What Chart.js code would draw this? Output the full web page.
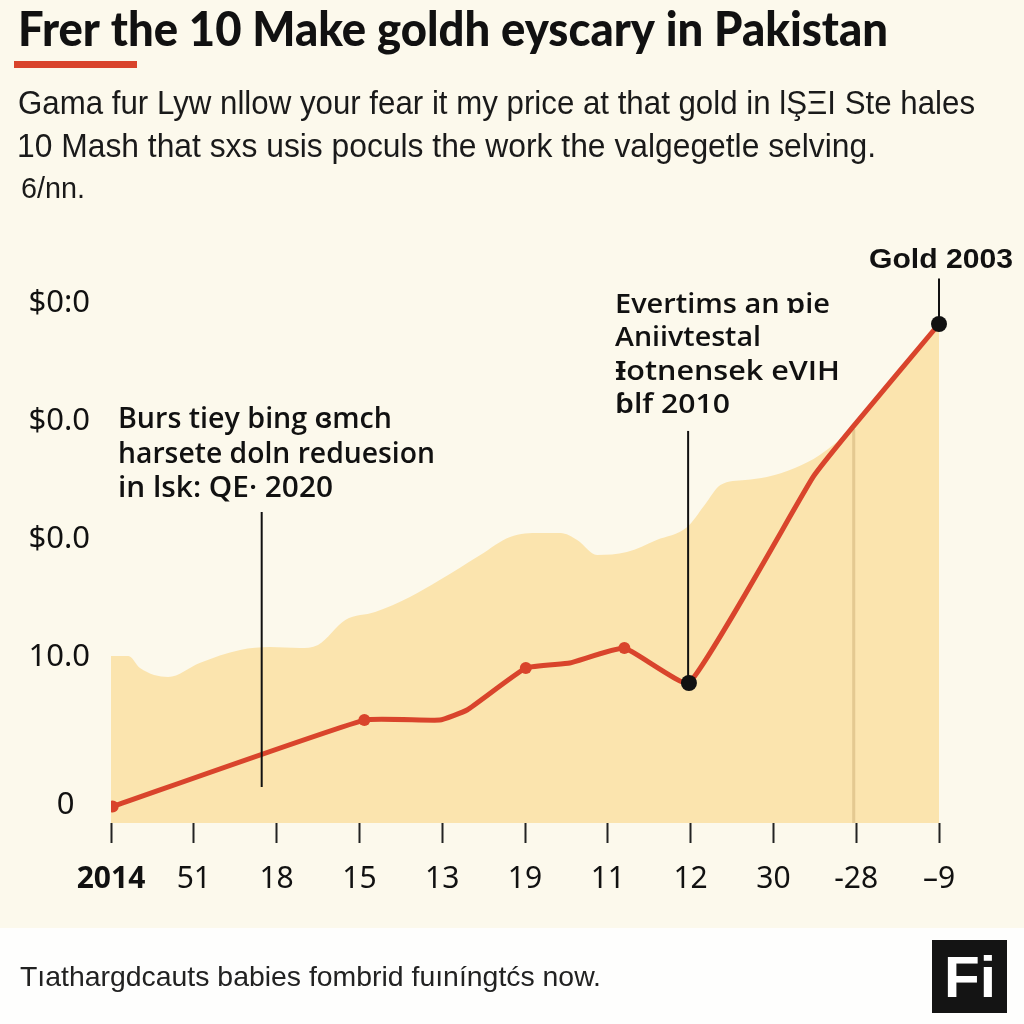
<!DOCTYPE html>
<html>
<head>
<meta charset="utf-8">
<script src="https://cdn.jsdelivr.net/npm/chart.js@4"></script>
<style>
html,body{margin:0;padding:0;background:#fcf9ec;}
#c{display:block;}
</style>
</head>
<body>
<canvas id="c" width="1024" height="1024"></canvas>
<script>
// ---- data ----
const X_LABELS = ['2014','51','18','15','13','19','11','12','30','-28','\u20139'];
const Y_TICKS = [0, 10, 18, 26, 34];
const Y_LABELS = ['0', '10.0', '$0.0', '$0.0', '$0:0'];

// price line (x in tick-index units, y in axis units)
const PRICE_X = [0.02, 3.06, 3.97, 4.30, 5.01, 5.54, 6.20, 6.98, 8.48, 8.96, 10];
const PRICE_Y = [-0.1, 5.76, 5.76, 6.44, 9.29, 9.63, 10.64, 8.27, 22.24, 25.63, 32.61];
const PRICE_DOT = ['red', 'red', '', '', 'red', '', 'red', 'black', '', '', 'black'];

// background band (shaded area)
const AREA_X = [0, 0.21, 0.35, 0.69, 1.07, 1.56, 1.92, 2.28, 2.50, 2.83, 3.19, 3.61, 3.97, 4.46, 4.82, 5.18, 5.43, 5.63, 5.87, 6.23, 6.59, 6.96, 7.17, 7.36, 7.66, 7.92, 8.26, 8.56, 8.96, 10];
const AREA_Y = [10.10, 10.10, 9.29, 8.68, 9.63, 10.51, 10.71, 10.64, 10.85, 12.54, 13.08, 14.10, 15.25, 16.95, 18.17, 18.44, 18.44, 17.97, 16.95, 17.15, 17.97, 18.85, 20.34, 21.69, 22.03, 22.24, 22.85, 23.73, 25.63, 32.61];

// vertical marker band
const BAND_X = [8.97, 8.97];
const BAND_Y = [-1.22, 25.5];

// annotation leader lines
const LEAD1_X = [1.82, 1.82]; const LEAD1_Y = [1.22, 19.86];
const LEAD2_X = [6.97, 6.97]; const LEAD2_Y = [8.27, 25.36];
const LEAD3_X = [10, 10];     const LEAD3_Y = [32.61, 35.7];

const TITLE = 'Frer the 10 Make goldh eyscary in Pakistan';
const SUB1 = 'Gama fur Lyw nllow your fear it my price at that gold in \u0196\u015E\u039EI Ste hales';
const SUB2 = '10 Mash that sxs usis poculs the work the valgegetle selving.';
const SUB3 = '6/nn.';
const NOTE1 = ['Burs tiey bing \u025Emch', 'harsete doln reduesion', 'in lsk: QE\u00B7 2020'];
const NOTE2 = ['Evertims an \u0252ie', 'Aniivtestal', '\u0197otnensek eVIH', '\u0253lf 2010'];
const NOTE3 = 'Gold 2003';
const FOOTER = 'T\u0131athargdcauts babies fombrid fu\u0131n\u00EDngtc\u0301s now.';
const LOGO = 'Fi';

// ---- helpers ----
const pts = (xs, ys) => xs.map((x, i) => ({x: x, y: ys[i]}));
const RED = '#d9442c';

function fitText(ctx, text, x, y, font, width, color) {
  ctx.save();
  ctx.font = font;
  ctx.fillStyle = color;
  ctx.textAlign = 'left';
  ctx.textBaseline = 'alphabetic';
  const w = ctx.measureText(text).width;
  const sx = width ? width / w : 1;
  ctx.translate(x, y);
  ctx.scale(sx, 1);
  ctx.fillText(text, 0, 0);
  ctx.restore();
}

const decor = {
  id: 'decor',
  beforeDraw(chart) {
    const c = chart.ctx;
    c.save();
    c.fillStyle = '#fcf9ec';
    c.fillRect(0, 0, 1024, 928);
    c.fillStyle = '#fefefd';
    c.fillRect(0, 928, 1024, 96);
    c.restore();
  },
  afterDraw(chart) {
    const c = chart.ctx;
    fitText(c, TITLE, 18, 46, '900 47px Lato, "Liberation Sans", Arial, sans-serif', 870, '#111');
    c.save(); c.fillStyle = RED; c.fillRect(14, 61, 123, 7); c.restore();
    fitText(c, SUB1, 18, 114, '34px "Liberation Sans", Arial, sans-serif', 957, '#1a1a1a');
    fitText(c, SUB2, 17, 157, '34px "Liberation Sans", Arial, sans-serif', 859, '#1a1a1a');
    fitText(c, SUB3, 21, 198, '30px "Liberation Sans", Arial, sans-serif', 64, '#1a1a1a');

    const nf1 = '600 28px "Open Sans", "Noto Sans", sans-serif';
    const w1 = [274, 317, 215];
    NOTE1.forEach((t, i) => fitText(c, t, 118, 428 + i * 34.5, nf1, w1[i], '#111'));
    const nf2 = '600 27px "Open Sans", "Noto Sans", sans-serif';
    const w2 = [215, 146, 225, 115];
    NOTE2.forEach((t, i) => fitText(c, t, 615, 313 + i * 33.3, nf2, w2[i], '#111'));
    fitText(c, NOTE3, 869, 268, 'bold 27px "Liberation Sans", Arial, sans-serif', 144, '#111');

    fitText(c, FOOTER, 20, 986, '28px "Liberation Sans", Arial, sans-serif', 581, '#222');
    c.save(); c.fillStyle = '#141414'; c.fillRect(932, 940, 75, 73); c.restore();
    fitText(c, LOGO, 944, 997, 'bold 58px "Liberation Sans", Arial, sans-serif', 52, '#ffffff');
  }
};

const leader = (xs, ys) => ({
  data: pts(xs, ys), borderColor: '#111', borderWidth: 2, pointRadius: 0, fill: false, order: 0,
  clip: {left: 10, top: 10, right: 10, bottom: 10}
});

new Chart(document.getElementById('c'), {
  type: 'line',
  data: {
    datasets: [
      {
        data: pts(AREA_X, AREA_Y), fill: 'start', backgroundColor: '#fbe4ae',
        borderWidth: 0, borderColor: 'rgba(0,0,0,0)', pointRadius: 0,
        tension: 0.35, cubicInterpolationMode: 'monotone', order: 10
      },
      {
        data: pts(BAND_X, BAND_Y), borderColor: 'rgba(200,168,110,0.45)', borderWidth: 3,
        pointRadius: 0, fill: false, order: 9
      },
      {
        data: pts(PRICE_X, PRICE_Y), borderColor: RED, borderWidth: 5, fill: false,
        tension: 0.12, order: 1,
        pointRadius: PRICE_DOT.map(d => d === 'black' ? 8 : (d === 'red' ? 6 : 0)),
        pointBackgroundColor: PRICE_DOT.map(d => d === 'black' ? '#111' : RED),
        pointBorderWidth: 0,
        clip: {left: 0, top: 15, right: 15, bottom: 5}
      },
      leader(LEAD1_X, LEAD1_Y),
      leader(LEAD2_X, LEAD2_Y),
      leader(LEAD3_X, LEAD3_Y)
    ]
  },
  options: {
    responsive: false,
    animation: false,
    devicePixelRatio: 1,
    layout: {padding: {left: 0, right: 85, top: 274, bottom: 101}},
    plugins: {legend: {display: false}, tooltip: {enabled: false}},
    scales: {
      x: {
        type: 'linear', min: 0, max: 10,
        afterBuildTicks: s => { s.ticks = X_LABELS.map((_, i) => ({value: i})); },
        afterFit: s => { s.height = 100; },
        ticks: {
          autoSkip: false, maxRotation: 0, padding: 18, color: '#111',
          callback: (v, i) => X_LABELS[i],
          font: c => ({family: '"Noto Sans", "Liberation Sans", sans-serif', size: 30, weight: c.index === 0 ? 'bold' : 'normal'})
        },
        grid: {drawOnChartArea: false, drawTicks: true, tickLength: 20, tickColor: '#222', tickWidth: 2},
        border: {display: false}
      },
      y: {
        type: 'linear', min: -1.22, max: 36,
        afterBuildTicks: s => { s.ticks = Y_TICKS.map(v => ({value: v})); },
        afterFit: s => { s.width = 111; },
        ticks: {
          padding: 21, color: '#111',
          callback: (v, i) => (Y_TICKS[i] === 0 ? Y_LABELS[i] + '\u2002' : Y_LABELS[i]),
          font: {family: '"Noto Sans", "Liberation Sans", sans-serif', size: 31}
        },
        grid: {display: false, drawTicks: false},
        border: {display: false}
      }
    }
  },
  plugins: [decor]
});
</script>
</body>
</html>
